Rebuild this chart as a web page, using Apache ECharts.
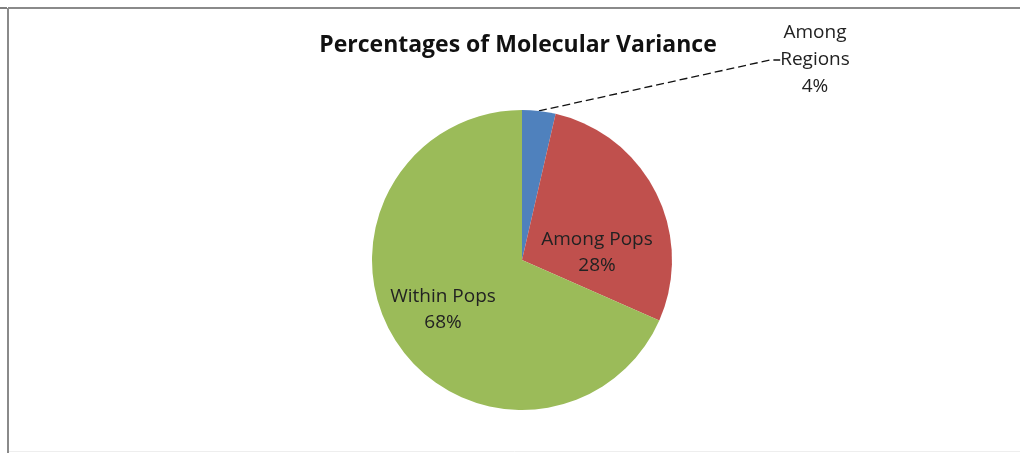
<!DOCTYPE html>
<html>
<head>
<meta charset="utf-8">
<script src="https://cdn.jsdelivr.net/npm/echarts@6/dist/echarts.min.js"></script>
<style>
  html, body { margin: 0; padding: 0; background: #fff; }
  #pie { width: 1020px; height: 453px; }
</style>
</head>
<body>
<div id="pie"></div>
<script>
// percentages of molecular variance (AMOVA)
const categories = ['Among Regions', 'Among Pops', 'Within Pops'];
const labelNames = ['Among\nRegions', 'Among Pops', 'Within Pops'];
const values = [3.6, 28.0, 68.4];
const colors = ['#4F81BD', '#C0504D', '#9BBB59'];

// where each label sits (like the excel chart)
const labelSpots = [[815, 60], [597, 253], [443, 310]];

const chartDom = document.getElementById('pie');
const myChart = echarts.init(chartDom);

const pieData = categories.map((name, i) => ({
  name,
  value: values[i],
  itemStyle: { color: colors[i] },
  label: { position: i === 0 ? 'outside' : 'inside', lineHeight: i === 0 ? 27 : 26 },
  labelLine: { show: i === 0 },
}));

const option = {
  animation: false,
  title: {
    text: 'Percentages of Molecular Variance',
    left: 513,
    top: 29,
    textAlign: 'center',
    textStyle: {
      fontFamily: 'Open Sans',
      fontSize: 23,
      fontWeight: 'bold',
      color: '#111',
    },
  },
  graphic: [
    { type: 'line', shape: { x1: 8, y1: 8, x2: 1020, y2: 8 }, style: { stroke: '#8a8a8a', lineWidth: 2 } },
    { type: 'line', shape: { x1: 8, y1: 8, x2: 8, y2: 453 }, style: { stroke: '#8a8a8a', lineWidth: 2 } },
    { type: 'line', shape: { x1: 0, y1: 8, x2: 7, y2: 8 }, style: { stroke: '#000', lineWidth: 1 } },
    { type: 'line', shape: { x1: 9, y1: 451.5, x2: 1020, y2: 451.5 }, style: { stroke: '#eeeeee', lineWidth: 1 } },
  ],
  series: [
    {
      type: 'pie',
      center: [522, 260],
      radius: 150,
      startAngle: 90,
      clockwise: true,
      silent: true,
      label: {
        fontFamily: 'Open Sans',
        fontSize: 19,
        lineHeight: 26,
        color: '#222',
        align: 'center',
        formatter: (p) => labelNames[p.dataIndex] + '\n' + Math.round(p.value) + '%',
      },
      labelLine: {
        length: 20,
        length2: 10,
        lineStyle: { color: '#111', width: 1.3, type: [8, 4] },
      },
      labelLayout: (params) => ({
        x: labelSpots[params.dataIndex][0],
        y: labelSpots[params.dataIndex][1],
        align: 'center',
        verticalAlign: 'middle',
      }),
      data: pieData,
    },
  ],
};

option && myChart.setOption(option);
</script>
</body>
</html>
